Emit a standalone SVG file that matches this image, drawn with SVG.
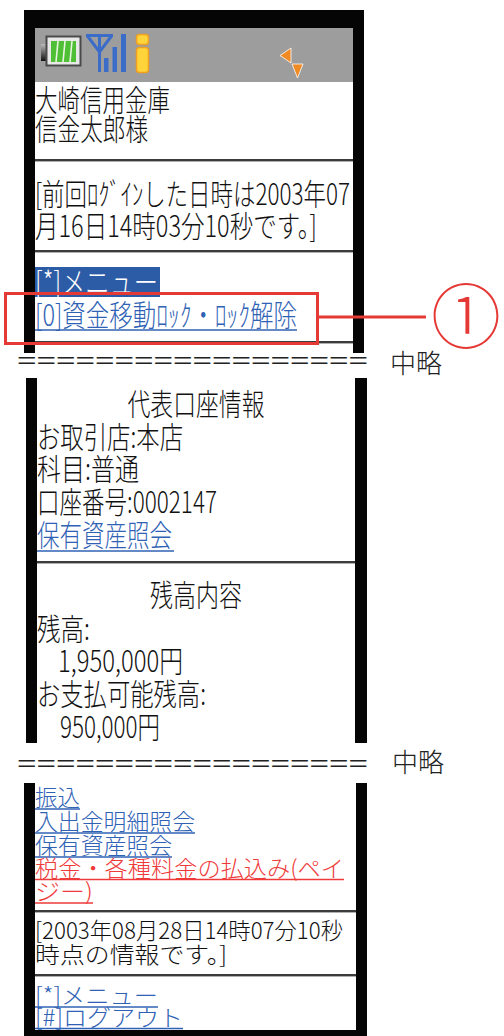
<svg xmlns="http://www.w3.org/2000/svg" width="504" height="1036" viewBox="0 0 504 1036">
<style>
.t{font-family:'Noto Sans CJK JP','Noto Sans CJK SC',sans-serif;font-weight:300;fill:#111}
.s1{font-size:30px}
.s3{font-size:23px}
.lk{fill:#2f62b5}
.rd{fill:#ee3a3a}
.wh{fill:#fff}
.ul{stroke:#2f62b5;stroke-width:1.5}
.ulr{stroke:#ee3a3a;stroke-width:1.5}
.frame{fill:#050505}
.sep{fill:#3c3c3c}
.sepl{fill:#b0b0b0}
.eq{font-family:'Liberation Sans',sans-serif;font-size:22px;fill:#222}
.om{font-family:'Noto Sans CJK JP',sans-serif;font-weight:300;font-size:26px;fill:#222}
</style>
<defs>
<linearGradient id="nub" x1="0" y1="0" x2="0" y2="1"><stop offset="0" stop-color="#bbb"/><stop offset="1" stop-color="#111"/></linearGradient>
</defs>
<rect width="504" height="1036" fill="#fff"/>

<g id="screen-top">
<rect class="frame" x="24" y="10" width="340" height="343"/>
<rect x="35" y="28" width="318" height="325" fill="#fff"/>
<rect x="35" y="28" width="318" height="54" fill="#9d9d9d"/>
<rect x="41" y="44" width="5" height="17" fill="url(#nub)"/>
<rect x="46.5" y="36.5" width="34" height="29" fill="#e8e8e8" stroke="#4a4a4a" stroke-width="2"/>
<rect x="51" y="41" width="25" height="21" fill="#4fbf36"/>
<path d="M58,41 L56,62 M65,41 L63,62 M72,41 L70,62" stroke="#e8f5e0" stroke-width="1.6"/>
<path d="M86,35.5 L113,35.5 M87.5,36 L99.5,52 L111.5,36 M99.5,36 L99.5,72" stroke="#3a6cc8" stroke-width="3" fill="none"/>
<rect x="104" y="58" width="4.5" height="14" fill="#3a6cc8"/>
<rect x="112.5" y="47" width="4.5" height="25" fill="#3a6cc8"/>
<rect x="121" y="34" width="5" height="38" fill="#3a6cc8"/>
<rect x="136.5" y="34.5" width="12" height="10" rx="3" fill="#ffd43a" stroke="#f0a020" stroke-width="1.5"/>
<rect x="136.5" y="47.5" width="12" height="25" rx="3" fill="#ffd43a" stroke="#f0a020" stroke-width="1.5"/>
<polygon points="280,55.5 291,48 291,63" fill="#f08a24" stroke="#fff" stroke-width="0.8"/>
<polygon points="292,64 303,64 297.5,78" fill="#f08a24" stroke="#fff" stroke-width="0.8"/>
<text class="t s1" x="35" y="111" textLength="135" lengthAdjust="spacingAndGlyphs">大崎信用金庫</text>
<text class="t s1" x="35" y="140" textLength="113" lengthAdjust="spacingAndGlyphs">信金太郎様</text>
<rect class="sep" x="35" y="159" width="318" height="2"/><rect class="sepl" x="35" y="161" width="318" height="1"/>
<text class="t s1" x="35" y="205" textLength="315" lengthAdjust="spacingAndGlyphs">[前回ﾛｸﾞｲﾝした日時は2003年07</text>
<text class="t s1" x="35" y="237" textLength="282" lengthAdjust="spacingAndGlyphs">月16日14時03分10秒です。]</text>
<rect class="sep" x="35" y="250" width="318" height="2"/><rect class="sepl" x="35" y="252" width="318" height="1"/>
<rect x="35" y="267" width="125" height="30" fill="#2d5ca6"/>
<text class="t s1 wh" x="35" y="293" textLength="123" lengthAdjust="spacingAndGlyphs">[*]メニュー</text>
<text class="t s1 lk" x="35" y="326" textLength="262" lengthAdjust="spacingAndGlyphs">[0]資金移動ﾛｯｸ・ﾛｯｸ解除</text>
<line class="ul" x1="35" y1="330" x2="297" y2="330"/>
<rect class="sep" x="35" y="341" width="318" height="2"/><rect class="sepl" x="35" y="343" width="318" height="1"/>
</g>

<g id="omit-1">
<text class="eq" x="17" y="368" textLength="351" lengthAdjust="spacingAndGlyphs">==================</text>
<text class="om" x="390" y="373">中略</text>
</g>

<g id="screen-middle">
<rect class="frame" x="26" y="378" width="11" height="365"/>
<rect class="frame" x="355" y="378" width="12" height="365"/>
<text class="t s1" x="196" y="415" text-anchor="middle" textLength="137" lengthAdjust="spacingAndGlyphs">代表口座情報</text>
<text class="t s1" x="37" y="448" textLength="146" lengthAdjust="spacingAndGlyphs">お取引店:本店</text>
<text class="t s1" x="37" y="480" textLength="102" lengthAdjust="spacingAndGlyphs">科目:普通</text>
<text class="t s1" x="37" y="513" textLength="180" lengthAdjust="spacingAndGlyphs">口座番号:0002147</text>
<text class="t s1 lk" x="37" y="546" textLength="135" lengthAdjust="spacingAndGlyphs">保有資産照会</text>
<line class="ul" x1="37" y1="551" x2="174" y2="551"/>
<rect class="sep" x="37" y="561" width="318" height="2"/><rect class="sepl" x="37" y="563" width="318" height="1"/>
<text class="t s1" x="196" y="606" text-anchor="middle" textLength="92" lengthAdjust="spacingAndGlyphs">残高内容</text>
<text class="t s1" x="37" y="640" textLength="53" lengthAdjust="spacingAndGlyphs">残高:</text>
<text class="t s1" x="58" y="672" textLength="125" lengthAdjust="spacingAndGlyphs">1,950,000円</text>
<text class="t s1" x="37" y="705" textLength="169" lengthAdjust="spacingAndGlyphs">お支払可能残高:</text>
<text class="t s1" x="60" y="738" textLength="100" lengthAdjust="spacingAndGlyphs">950,000円</text>
</g>

<g id="omit-2">
<text class="eq" x="17" y="771" textLength="351" lengthAdjust="spacingAndGlyphs">==================</text>
<text class="om" x="392" y="772">中略</text>
</g>

<g id="screen-bottom">
<rect class="frame" x="24" y="783" width="11" height="253"/>
<rect class="frame" x="356" y="783" width="11" height="253"/>
<rect class="frame" x="24" y="1030" width="343" height="6"/>
<text class="t s3 lk" x="35" y="806" textLength="45" lengthAdjust="spacingAndGlyphs">振込</text>
<line class="ul" x1="35" y1="809" x2="80" y2="809"/>
<text class="t s3 lk" x="35" y="830" textLength="160" lengthAdjust="spacingAndGlyphs">入出金明細照会</text>
<line class="ul" x1="35" y1="833" x2="195" y2="833"/>
<text class="t s3 lk" x="35" y="854" textLength="137" lengthAdjust="spacingAndGlyphs">保有資産照会</text>
<line class="ul" x1="35" y1="857" x2="172" y2="857"/>
<text class="t s3 rd" x="35" y="877" textLength="309" lengthAdjust="spacingAndGlyphs">税金・各種料金の払込み(ペイ</text>
<line class="ulr" x1="35" y1="879.5" x2="344" y2="879.5"/>
<text class="t s3 rd" x="35" y="900" textLength="58" lengthAdjust="spacingAndGlyphs">ジー)</text>
<line class="ulr" x1="35" y1="903" x2="93" y2="903"/>
<rect class="sep" x="35" y="910" width="321" height="2"/><rect class="sepl" x="35" y="912" width="321" height="1"/>
<text class="t s3" x="35" y="939" textLength="308" lengthAdjust="spacingAndGlyphs">[2003年08月28日14時07分10秒</text>
<text class="t s3" x="35" y="963" textLength="192" lengthAdjust="spacingAndGlyphs">時点の情報です。]</text>
<rect class="sep" x="35" y="974" width="321" height="2"/><rect class="sepl" x="35" y="976" width="321" height="1"/>
<text class="t s3 lk" x="35" y="1004" textLength="123" lengthAdjust="spacingAndGlyphs">[*]メニュー</text>
<line class="ul" x1="35" y1="1007" x2="158" y2="1007"/>
<text class="t s3 lk" x="35" y="1026" textLength="148" lengthAdjust="spacingAndGlyphs">[#]ログアウト</text>
<line class="ul" x1="35" y1="1028.5" x2="183" y2="1028.5"/>
</g>

<g id="callout">
<rect x="5.5" y="293.5" width="312" height="50" fill="none" stroke="#e53935" stroke-width="3"/>
<text x="431" y="343" font-family="'Noto Sans CJK JP',sans-serif" font-weight="300" font-size="70" fill="#e53935">①</text>
</g>

<g id="connectors">
<line x1="319" y1="317" x2="426" y2="317" stroke="#e53935" stroke-width="3"/>
</g>
</svg>
